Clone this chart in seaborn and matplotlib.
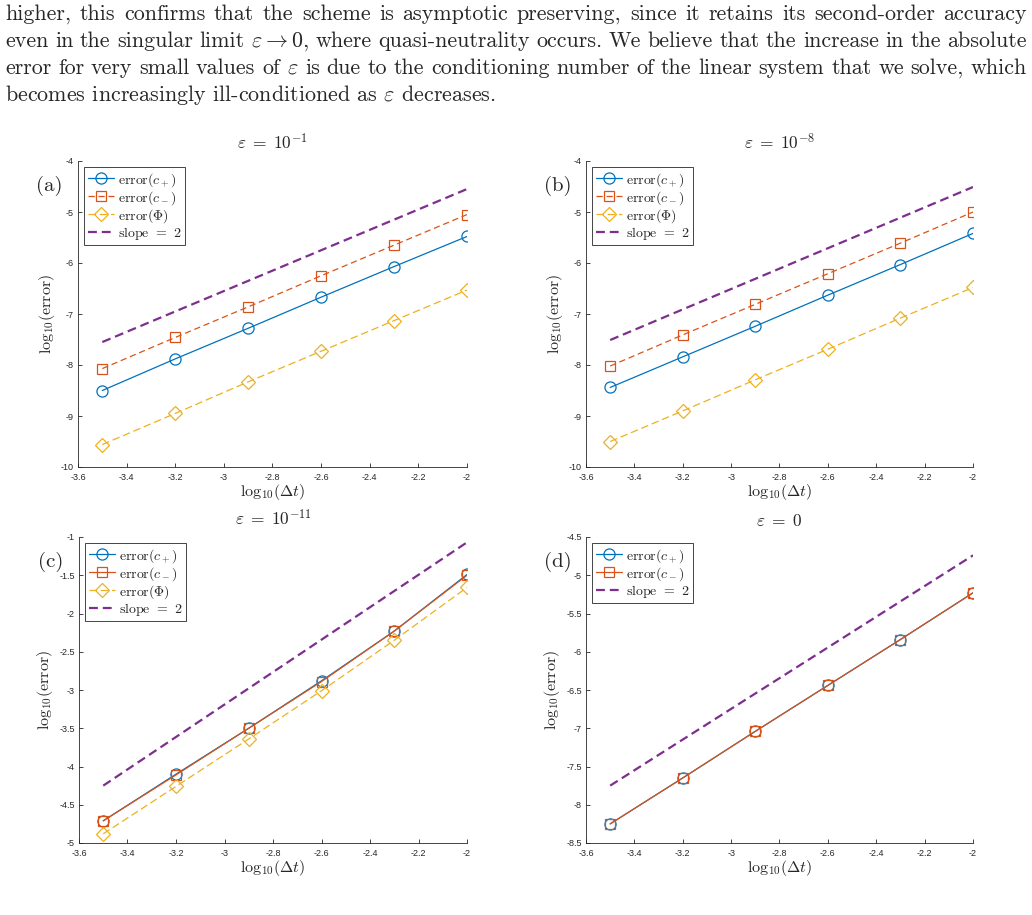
import numpy as np
import matplotlib
matplotlib.use("Agg")
import matplotlib.pyplot as plt
from matplotlib.ticker import FuncFormatter, MultipleLocator
import seaborn as sns

# log10(dt) values
log_dt = [-3.5, -3.2, -2.9, -2.6, -2.3, -2.0]

# (a) eps = 1e-1
a_cplus = [-8.50, -7.88, -7.28, -6.67, -6.07, -5.48]
a_cminus = [-8.07, -7.46, -6.86, -6.25, -5.65, -5.05]
a_phi = [-9.56, -8.95, -8.33, -7.73, -7.13, -6.53]
a_slope = [-7.55, -4.55]

# (b) eps = 1e-8
b_cplus = [-8.44, -7.84, -7.24, -6.63, -6.03, -5.42]
b_cminus = [-8.02, -7.41, -6.81, -6.21, -5.61, -5.00]
b_phi = [-9.50, -8.90, -8.29, -7.69, -7.08, -6.48]
b_slope = [-7.51, -4.51]

# (c) eps = 1e-11
c_cplus = [-4.71, -4.10, -3.50, -2.88, -2.23, -1.49]
c_cminus = [-4.71, -4.11, -3.50, -2.89, -2.23, -1.50]
c_phi = [-4.88, -4.26, -3.64, -3.01, -2.35, -1.66]
c_slope = [-4.25, -1.07]

# (d) eps = 0
d_cplus = [-8.25, -7.65, -7.04, -6.44, -5.84, -5.23]
d_cminus = [-8.25, -7.65, -7.04, -6.44, -5.84, -5.23]
d_slope = [-7.75, -4.74]

slope_x = [-3.5, -2.0]

paragraph = [
    "higher, this confirms that the scheme is asymptotic preserving, since it retains its second-order accuracy",
    r"even in the singular limit $\varepsilon \to 0$, where quasi-neutrality occurs. We believe that the increase in the absolute",
    r"error for very small values of $\varepsilon$ is due to the conditioning number of the linear system that we solve, which",
    r"becomes increasingly ill-conditioned as $\varepsilon$ decreases.",
]

BLUE = "#0072BD"
ORANGE = "#D95319"
YELLOW = "#EDB120"
PURPLE = "#7E2F8E"

sns.set_style("white")
plt.rcParams["font.family"] = "serif"
plt.rcParams["font.serif"] = ["cmr10", "DejaVu Serif"]
plt.rcParams["mathtext.fontset"] = "cm"
plt.rcParams["axes.unicode_minus"] = False


def tick_fmt(v, pos):
    return "%g" % round(v, 4)


def draw_panel(ax, title, letter, cplus, cminus, phi, slope, ylim, ystep, cminus_dashed):
    sns.lineplot(x=log_dt, y=cplus, ax=ax, color=BLUE, lw=0.9, marker="o", ms=8,
                 markerfacecolor="none", markeredgecolor=BLUE, mew=0.9,
                 label=r"error$(c_+)$")
    sns.lineplot(x=log_dt, y=cminus, ax=ax, color=ORANGE, lw=0.9, marker="s", ms=7,
                 markerfacecolor="none", markeredgecolor=ORANGE, mew=0.9,
                 dashes=(5, 3) if cminus_dashed else "", label=r"error$(c_-)$")
    if phi is not None:
        sns.lineplot(x=log_dt, y=phi, ax=ax, color=YELLOW, lw=0.9, marker="D", ms=7.5,
                     markerfacecolor="none", markeredgecolor=YELLOW, mew=0.9,
                     dashes=(6, 3), label=r"error$(\Phi)$")
    sns.lineplot(x=slope_x, y=slope, ax=ax, color=PURPLE, lw=1.6, dashes=(4, 2.2),
                 label=r"slope $=$ 2")

    ax.set_xlim(-3.6, -2)
    ax.set_ylim(*ylim)
    ax.xaxis.set_major_locator(MultipleLocator(0.2))
    ax.yaxis.set_major_locator(MultipleLocator(ystep))
    ax.xaxis.set_major_formatter(FuncFormatter(tick_fmt))
    ax.yaxis.set_major_formatter(FuncFormatter(tick_fmt))
    ax.tick_params(direction="in", length=3, width=0.6, colors="#262626",
                   labelsize=6.5, bottom=True, left=True)
    ax.tick_params(axis="x", pad=4)
    ax.tick_params(axis="y", pad=3)
    for lab in ax.get_xticklabels() + ax.get_yticklabels():
        lab.set_fontfamily("Liberation Sans")
    sns.despine(ax=ax)
    for s in ("left", "bottom"):
        ax.spines[s].set_color("#262626")
        ax.spines[s].set_linewidth(0.6)

    ax.set_title(title, fontsize=12.5, pad=8)
    ax.set_xlabel(r"$\mathrm{log}_{10}(\Delta t)$", fontsize=11.5, labelpad=0)
    ax.set_ylabel(r"$\mathrm{log}_{10}(\mathrm{error})$", fontsize=11.5, labelpad=3)
    ax.text(-0.074, 0.92, letter, transform=ax.transAxes, fontsize=15,
            ha="center", va="center")
    leg = ax.legend(loc="upper left", bbox_to_anchor=(0.0, 1.0), borderaxespad=0.45,
                    fontsize=10, handlelength=1.9, handletextpad=0.3,
                    labelspacing=0.02, borderpad=0.25, fancybox=False, framealpha=1)
    leg.get_frame().set_edgecolor("#262626")
    leg.get_frame().set_linewidth(0.6)


fig = plt.figure(figsize=(10.32, 9.15), dpi=100)

W, H = 1032, 915
pos = {
    "a": [78 / W, (H - 467) / H, 389 / W, 306 / H],
    "b": [586 / W, (H - 467) / H, 387 / W, 306 / H],
    "c": [79 / W, (H - 843) / H, 388 / W, 306 / H],
    "d": [586 / W, (H - 843) / H, 387 / W, 306 / H],
}

ax_a = fig.add_axes(pos["a"])
draw_panel(ax_a, r"$\varepsilon\;=\;10^{-1}$", "(a)", a_cplus, a_cminus, a_phi, a_slope,
           (-10, -4), 1, True)
ax_b = fig.add_axes(pos["b"])
draw_panel(ax_b, r"$\varepsilon\;=\;10^{-8}$", "(b)", b_cplus, b_cminus, b_phi, b_slope,
           (-10, -4), 1, True)
ax_c = fig.add_axes(pos["c"])
draw_panel(ax_c, r"$\varepsilon\;=\;10^{-11}$", "(c)", c_cplus, c_cminus, c_phi, c_slope,
           (-5, -1), 0.5, False)
ax_d = fig.add_axes(pos["d"])
draw_panel(ax_d, r"$\varepsilon\;=\;0$", "(d)", d_cplus, d_cminus, None, d_slope,
           (-8.5, -4.5), 0.5, False)

# justified paragraph on top
renderer = fig.canvas.get_renderer()
x0, x1 = 5, 1027
probe = fig.text(0, 0, paragraph[0], fontsize=12)
fs = 12 * (x1 - x0) / probe.get_window_extent(renderer).width * 0.985
probe.remove()

for i, line in enumerate(paragraph):
    y = 1 - (20 + 27 * i) / H
    if i == len(paragraph) - 1:
        fig.text(x0 / W, y, line, fontsize=fs, ha="left", va="baseline")
        continue
    words = []
    buf = ""
    for w in line.split(" "):
        buf = (buf + " " + w) if buf else w
        if buf.count("$") % 2 == 0:
            words.append(buf)
            buf = ""
    texts = [fig.text(0, y, w, fontsize=fs, ha="left", va="baseline") for w in words]
    widths = [t.get_window_extent(renderer).width for t in texts]
    gap = (x1 - x0 - sum(widths)) / (len(words) - 1)
    x = x0
    for t, wd in zip(texts, widths):
        t.set_x(x / W)
        x += wd + gap

fig.savefig("out.png", dpi=100)
